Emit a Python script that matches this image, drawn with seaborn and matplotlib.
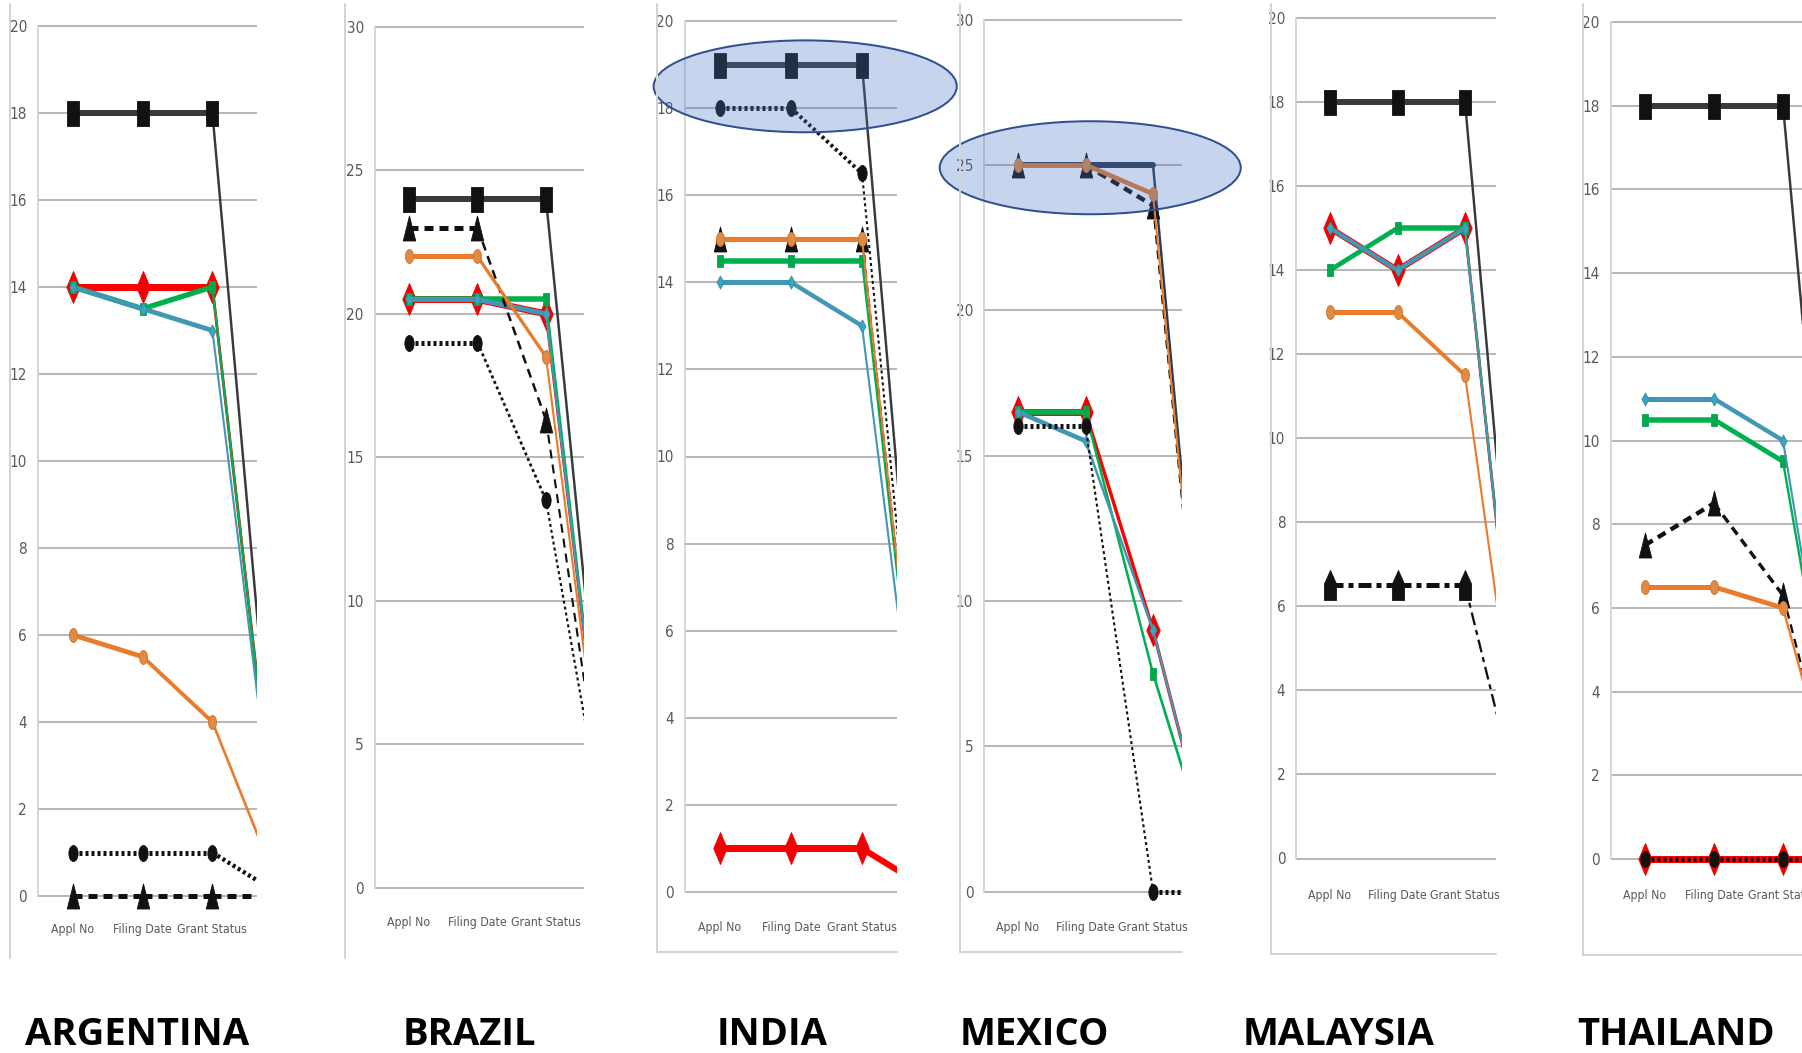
import matplotlib
matplotlib.use("Agg")
import numpy as np
import matplotlib.pyplot as plt
from matplotlib import font_manager
from matplotlib.patches import Ellipse
from matplotlib.path import Path
from matplotlib.lines import Line2D
from matplotlib.ticker import FormatStrFormatter
import seaborn as sns

# ------------------------------------------------------------------ data
categories = ["Appl No", "Filing Date", "Grant Status", "Total"]
countries = ["ARGENTINA", "BRAZIL", "INDIA", "MEXICO", "MALAYSIA", "THAILAND"]
y_max = [20, 30, 20, 30, 20, 20]
y_step = [2, 5, 2, 5, 2, 2]

argentina_black = [18, 18, 18, 0]
argentina_red = [14, 14, 14, 0]
argentina_green = [14, 13.5, 14, 0]
argentina_teal = [14, 13.5, 13, 0]
argentina_dashed = [0, 0, 0, 0]
argentina_orange = [6, 5.5, 4, 0]
argentina_dotted = [1, 1, 1, 0]

brazil_black = [24, 24, 24, 0]
brazil_red = [20.5, 20.5, 20, 0]
brazil_green = [20.5, 20.5, 20.5, 0]
brazil_teal = [20.5, 20.5, 20, 0]
brazil_dashed = [23, 23, 16.3, 0]
brazil_orange = [22, 22, 18.5, 0]
brazil_dotted = [19, 19, 13.5, 0]

india_black = [19, 19, 19, 0]
india_red = [1, 1, 1, 0]
india_green = [14.5, 14.5, 14.5, 0]
india_teal = [14, 14, 13, 0]
india_dashed = [15, 15, 15, 0]
india_orange = [15, 15, 15, 0]
india_dotted = [18, 18, 16.5, 0]

mexico_black = [25, 25, 25, 0]
mexico_red = [16.5, 16.5, 9, 0]
mexico_green = [16.5, 16.5, 7.5, 0]
mexico_teal = [16.5, 15.5, 9, 0]
mexico_dashed = [25, 25, 23.6, 0]
mexico_orange = [25, 25, 24, 0]
mexico_dotted = [16, 16, 0, 0]

malaysia_black = [18, 18, 18, 0]
malaysia_red = [15, 14, 15, 0]
malaysia_green = [14, 15, 15, 0]
malaysia_teal = [15, 14, 15, 0]
malaysia_orange = [13, 13, 11.5, 0]
malaysia_dashdot = [6.5, 6.5, 6.5, 0]

thailand_black = [18, 18, 18, 0]
thailand_red = [0, 0, 0, 0]
thailand_green = [10.5, 10.5, 9.5, 0]
thailand_teal = [11, 11, 10, 0]
thailand_dashed = [7.5, 8.5, 6.3, 0]
thailand_orange = [6.5, 6.5, 6, 0]
thailand_dotted = [0, 0, 0, 0]

panel_series = [
    {"black": argentina_black, "red": argentina_red, "green": argentina_green,
     "teal": argentina_teal, "dashed": argentina_dashed,
     "orange": argentina_orange, "dotted": argentina_dotted},
    {"black": brazil_black, "red": brazil_red, "green": brazil_green,
     "teal": brazil_teal, "dashed": brazil_dashed,
     "orange": brazil_orange, "dotted": brazil_dotted},
    {"black": india_black, "red": india_red, "green": india_green,
     "teal": india_teal, "dashed": india_dashed,
     "orange": india_orange, "dotted": india_dotted},
    {"black": mexico_black, "red": mexico_red, "green": mexico_green,
     "teal": mexico_teal, "dashed": mexico_dashed,
     "orange": mexico_orange, "dotted": mexico_dotted},
    {"black": malaysia_black, "red": malaysia_red, "green": malaysia_green,
     "teal": malaysia_teal, "orange": malaysia_orange,
     "dashdot": malaysia_dashdot},
    {"black": thailand_black, "red": thailand_red, "green": thailand_green,
     "teal": thailand_teal, "dashed": thailand_dashed,
     "orange": thailand_orange, "dotted": thailand_dotted},
]

# highlighted groups (panel index, centre x, centre y, width, height) in data units
highlights = [(2, 1.2, 18.5, 4.27, 2.11), (3, 1.07, 24.9, 4.46, 3.2)]

# ------------------------------------------------------------------ layout (pixels)
W, H, DPI = 1802, 1053, 100
layout = [
    dict(x0=73, dx=69.7, right=257, y0=896, ytop=26, xlab=931, bx=10, bb=958, bottom_line=False, title=(137, 1035)),
    dict(x0=409, dx=68.5, right=584, y0=887.5, ytop=27, xlab=924, bx=345, bb=958, bottom_line=False, title=(469, 1035)),
    dict(x0=720, dx=71, right=897, y0=892, ytop=21, xlab=929, bx=657, bb=952, bottom_line=True, title=(772, 1035)),
    dict(x0=1018, dx=67.5, right=1182, y0=891.5, ytop=19.5, xlab=929, bx=960, bb=952, bottom_line=True, title=(1034, 1035)),
    dict(x0=1330, dx=67.5, right=1496, y0=858.5, ytop=18, xlab=897, bx=1271, bb=954, bottom_line=True, title=(1339, 1035)),
    dict(x0=1645, dx=69, right=1802, y0=859, ytop=22, xlab=897, bx=1583, bb=955, bottom_line=True, title=(1676, 1035)),
]


def px(v):
    return v * 72.0 / DPI


def shape(points):
    verts = points + [points[0]]
    codes = [Path.MOVETO] + [Path.LINETO] * (len(points) - 1) + [Path.CLOSEPOLY]
    return Path(verts, codes)


tall_rect = shape([(-0.47, -1), (0.47, -1), (0.47, 1), (-0.47, 1)])
tall_diamond = shape([(0, -1), (0.42, 0), (0, 1), (-0.42, 0)])
small_diamond = shape([(0, -1), (0.55, 0), (0, 1), (-0.55, 0)])
small_rect = shape([(-0.55, -1), (0.55, -1), (0.55, 1), (-0.55, 1)])
_c = Path.unit_circle()
tall_oval = Path(_c.vertices * np.array([0.58, 1.0]), _c.codes)
tall_triangle = shape([(0, 1), (0.5, -1), (-0.5, -1)])
house = shape([(-0.4, -1), (0.4, -1), (0.4, 0.1), (0, 1), (-0.4, 0.1)])

# widths / dash patterns given in pixels
styles = {
    "black": dict(color="#3a3a3a", w=6, dash=None, marker=tall_rect, ms=25,
                  mfc="#111111", mec="#111111", z=2),
    "red": dict(color="#ff0000", w=7, dash=None, marker=tall_diamond, ms=32,
                mfc="#f00000", mec="#f00000", z=3),
    "green": dict(color="#00b050", w=5.5, dash=None, marker=small_rect, ms=12,
                  mfc="#00a84c", mec="#00a84c", z=4),
    "teal": dict(color="#4297b4", w=5, dash=None, marker=small_diamond, ms=13,
                 mfc="#3aa6bd", mec="#3a8ca8", z=5),
    "dashed": dict(color="#111111", w=5, dash=(9, 6), marker=tall_triangle,
                   ms=25, mfc="#111111", mec="#111111", z=6),
    "dashdot": dict(color="#111111", w=5, dash=(13, 5, 5, 5), marker=house,
                    ms=30, mfc="#111111", mec="#111111", z=6),
    "orange": dict(color="#e97b2b", w=5, dash=None, marker=tall_oval, ms=14,
                   mfc="#e08a45", mec="#c9782f", z=7),
    "dotted": dict(color="#111111", w=5, dash=(3, 3), marker=tall_oval,
                   ms=16, mfc="#111111", mec="#111111", z=8),
}
overrides = {(3, "black"): dict(marker="", color="#2e3b52")}

SQUISH = 0.4   # the source charts were compressed horizontally


def seg_width(w_px, dy_px, dx_px):
    th = np.arctan2(abs(dy_px), dx_px)
    return max(1.8, w_px * np.sqrt(np.cos(th) ** 2 + (SQUISH * np.sin(th)) ** 2))


# ------------------------------------------------------------------ style / fonts
sns.set_style("white")
names = {f.name for f in font_manager.fontManager.ttflist}
if "Liberation Sans Narrow" in names:
    plt.rcParams["font.family"] = ["Liberation Sans Narrow", "DejaVu Sans"]
    xt_size, yt_size = 10, 11
else:
    plt.rcParams["font.family"] = ["DejaVu Sans"]
    plt.rcParams["font.stretch"] = "condensed"
    xt_size, yt_size = 8.8, 11
title_family = "Open Sans" if "Open Sans" in names else "DejaVu Sans"

fig = plt.figure(figsize=(W / DPI, H / DPI), dpi=DPI)
fig.patch.set_facecolor("white")

BOTTOM_PAD, TOP_PAD = 18, 4
axes = []
for i, country in enumerate(countries):
    L = layout[i]
    ymax, step = y_max[i], y_step[i]
    left = L["x0"] - 0.5 * L["dx"]
    right = L["right"]
    top = L["ytop"] - TOP_PAD
    bottom = L["y0"] + BOTTOM_PAD
    ppu = (L["y0"] - L["ytop"]) / ymax
    ax = fig.add_axes([left / W, 1 - bottom / H, (right - left) / W, (bottom - top) / H])
    ax.set_facecolor("none")
    axes.append(ax)

    for key, vals in panel_series[i].items():
        st = dict(styles[key])
        st.update(overrides.get((i, key), {}))
        # markers (all points; the 4th category lies beyond the visible range)
        if st["marker"]:
            sns.lineplot(x=categories, y=vals, ax=ax, sort=False, errorbar=None,
                         linestyle="none", marker=st["marker"], markersize=px(st["ms"]),
                         markerfacecolor=st["mfc"], markeredgecolor=st["mec"],
                         markeredgewidth=0.6, zorder=st["z"] + 0.05)
        # connecting segments, one per pair of categories
        for k in range(len(categories) - 1):
            wpx = seg_width(st["w"], (vals[k + 1] - vals[k]) * ppu, L["dx"])
            if st["dash"]:
                ls = (0, tuple(d / wpx for d in st["dash"]))
            else:
                ls = "-"
            sns.lineplot(x=categories[k:k + 2], y=vals[k:k + 2], ax=ax, sort=False,
                         errorbar=None, color=st["color"], linewidth=px(wpx),
                         linestyle=ls, zorder=st["z"],
                         solid_capstyle="round", dash_capstyle="butt")

    ax.set_xlim(-0.5, (right - L["x0"]) / L["dx"])
    ax.set_ylim(-BOTTOM_PAD / ppu, ymax + TOP_PAD / ppu)
    ax.set_yticks(np.arange(0, ymax + step / 2, step))
    ax.yaxis.set_major_formatter(FormatStrFormatter("%d"))
    ax.set_xlabel("")
    ax.set_ylabel("")
    ax.grid(axis="y", color="#b8b8b8", linewidth=px(2))
    ax.grid(axis="x", visible=False)
    ax.set_axisbelow(True)
    for s in ("top", "right", "bottom"):
        ax.spines[s].set_visible(False)
    ax.spines["left"].set_color("#cfcfcf")
    ax.spines["left"].set_linewidth(px(1.6))
    ax.spines["left"].set_bounds(0, ymax)
    xpad = (L["xlab"] - 8 - bottom)
    ax.tick_params(axis="x", length=0, pad=px(xpad), labelsize=xt_size, labelcolor="#595959")
    ax.tick_params(axis="y", length=0, pad=px(11), labelsize=yt_size, labelcolor="#595959")

    # chart-area border (left, optionally bottom)
    fig.add_artist(Line2D([L["bx"] / W, L["bx"] / W], [1 - 4 / H, 1 - L["bb"] / H],
                          transform=fig.transFigure, color="#d3d3d3", linewidth=px(2)))
    if L["bottom_line"]:
        fig.add_artist(Line2D([L["bx"] / W, right / W], [1 - L["bb"] / H, 1 - L["bb"] / H],
                              transform=fig.transFigure, color="#d3d3d3", linewidth=px(2)))

    fig.text(L["title"][0] / W, 1 - L["title"][1] / H, country, ha="center", va="center",
             fontsize=27.5, fontweight="bold", family=title_family, fontstretch="normal",
             color="black")

for idx, cx, cy, w, h in highlights:
    e = Ellipse((cx, cy), w, h, transform=axes[idx].transData, clip_on=False,
                facecolor=(0.27, 0.45, 0.77, 0.30), edgecolor="#2f5190",
                linewidth=px(2), zorder=20)
    axes[idx].add_patch(e)

fig.savefig("out.png", dpi=DPI, facecolor="white")
